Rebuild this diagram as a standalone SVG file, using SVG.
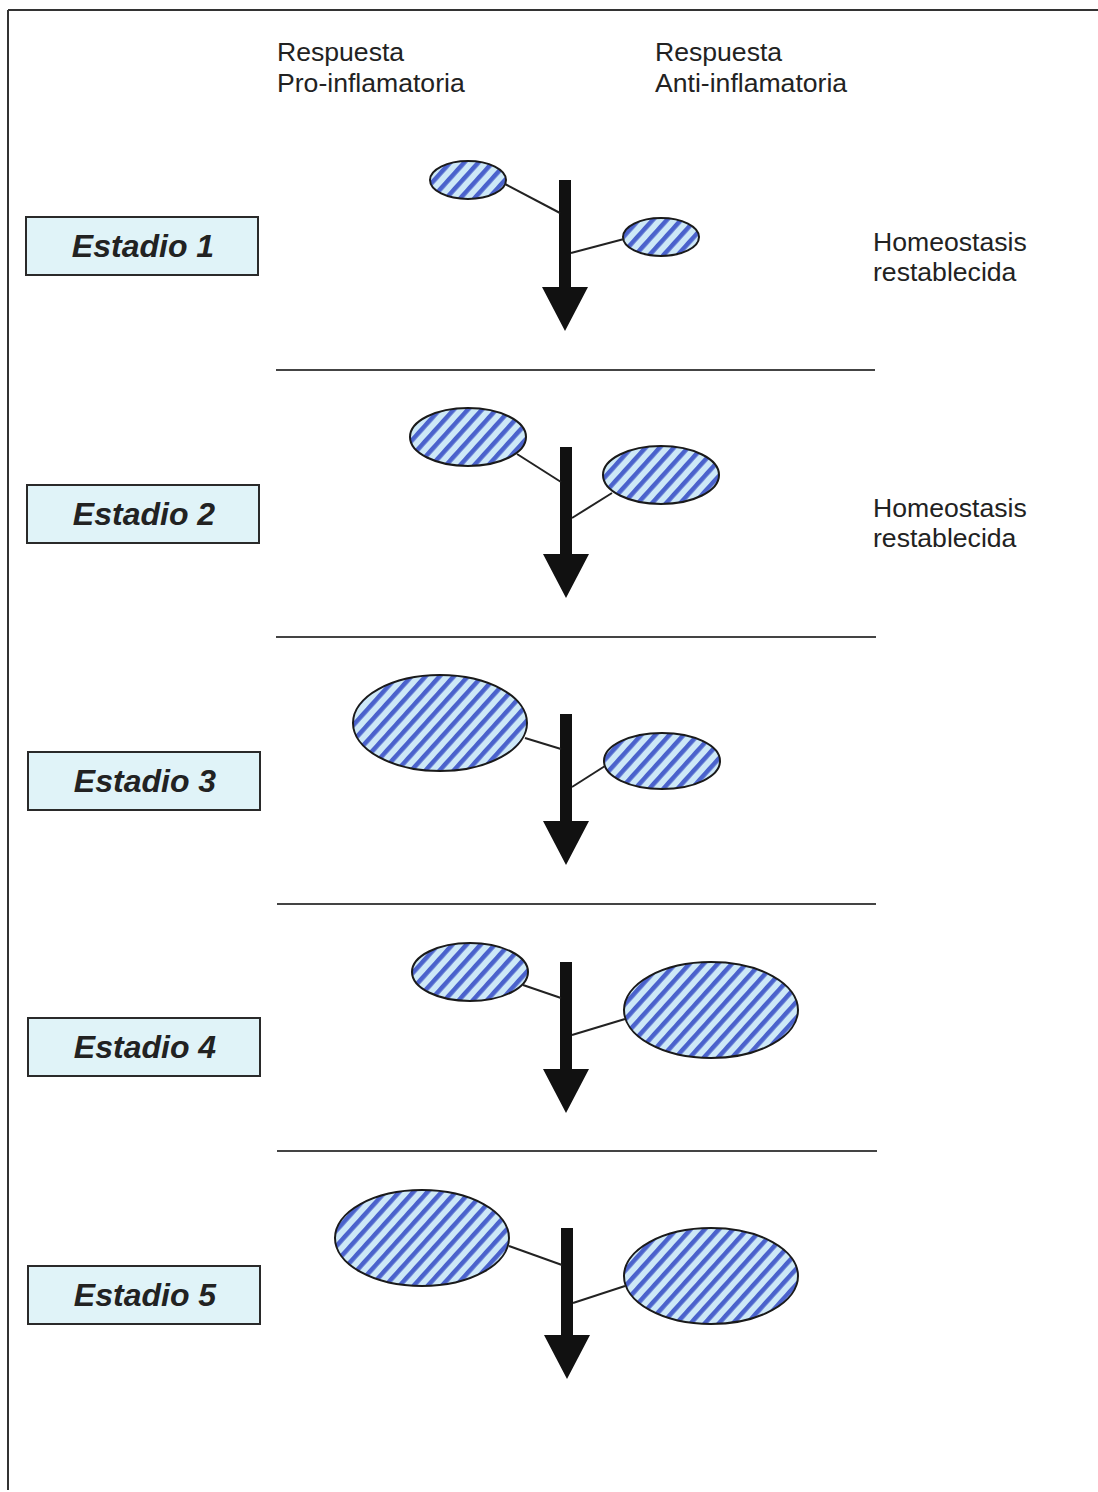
<svg xmlns="http://www.w3.org/2000/svg" width="1098" height="1492" viewBox="0 0 1098 1492">
<defs>
<pattern id="hatch" width="10.5" height="10.5" patternUnits="userSpaceOnUse" patternTransform="rotate(42)">
<rect width="10.5" height="10.5" fill="#cde8f7"/>
<rect width="4.5" height="10.5" fill="#4a62cc"/>
</pattern>
<path id="arrow" d="M-6,0 H6 V107 H23 L0,151 L-23,107 H-6 Z" fill="#111"/>
</defs>
<style>
.hdr{font-family:"Liberation Sans",Arial,sans-serif;font-size:26.6px;fill:#222}
.box{fill:#e0f3f8;stroke:#2a2a2a;stroke-width:2}
.lbl{font-family:"Liberation Sans",Arial,sans-serif;font-size:32px;font-weight:bold;font-style:italic;fill:#222;text-anchor:middle}
.ell{fill:url(#hatch);stroke:#1a1a1a;stroke-width:2}
.sep{stroke:#444;stroke-width:2}
.con{stroke:#222;stroke-width:2;fill:none}
</style>
<rect width="1098" height="1492" fill="#ffffff"/>
<g id="frame">
<line x1="8" y1="10" x2="1098" y2="10" stroke="#333" stroke-width="2"/>
<line x1="8" y1="10" x2="8" y2="1490" stroke="#333" stroke-width="2"/>
</g>
<g id="headers">
<text class="hdr" x="277" y="61">Respuesta</text>
<text class="hdr" x="277" y="92">Pro-inflamatoria</text>
<text class="hdr" x="655" y="61">Respuesta</text>
<text class="hdr" x="655" y="92">Anti-inflamatoria</text>
</g>
<g id="separators">
<line class="sep" x1="276" y1="370" x2="875" y2="370"/>
<line class="sep" x1="276" y1="637" x2="876" y2="637"/>
<line class="sep" x1="277" y1="904" x2="876" y2="904"/>
<line class="sep" x1="277" y1="1151" x2="877" y2="1151"/>
</g>
<g id="estadio1">
<rect class="box" x="26" y="217" width="232" height="58"/>
<text class="lbl" x="143" y="257">Estadio 1</text>
</g>
<g id="estadio2">
<rect class="box" x="27" y="485" width="232" height="58"/>
<text class="lbl" x="144" y="525">Estadio 2</text>
</g>
<g id="estadio3">
<rect class="box" x="28" y="752" width="232" height="58"/>
<text class="lbl" x="145" y="792">Estadio 3</text>
</g>
<g id="estadio4">
<rect class="box" x="28" y="1018" width="232" height="58"/>
<text class="lbl" x="145" y="1058">Estadio 4</text>
</g>
<g id="estadio5">
<rect class="box" x="28" y="1266" width="232" height="58"/>
<text class="lbl" x="145" y="1306">Estadio 5</text>
</g>
<g id="homeo1">
<text class="hdr" x="873" y="251">Homeostasis</text>
<text class="hdr" x="873" y="281">restablecida</text>
</g>
<g id="homeo2">
<text class="hdr" x="873" y="517">Homeostasis</text>
<text class="hdr" x="873" y="547">restablecida</text>
</g>
<g id="pro1"><ellipse class="ell" cx="468" cy="180" rx="38" ry="19"/></g>
<g id="anti1"><ellipse class="ell" cx="661" cy="237" rx="38" ry="19"/></g>
<g id="pro2"><ellipse class="ell" cx="468" cy="437" rx="58" ry="29"/></g>
<g id="anti2"><ellipse class="ell" cx="661" cy="475" rx="58" ry="29"/></g>
<g id="pro3"><ellipse class="ell" cx="440" cy="723" rx="87" ry="48"/></g>
<g id="anti3"><ellipse class="ell" cx="662" cy="761" rx="58" ry="28"/></g>
<g id="pro4"><ellipse class="ell" cx="470" cy="972" rx="58" ry="29"/></g>
<g id="anti4"><ellipse class="ell" cx="711" cy="1010" rx="87" ry="48"/></g>
<g id="pro5"><ellipse class="ell" cx="422" cy="1238" rx="87" ry="48"/></g>
<g id="anti5"><ellipse class="ell" cx="711" cy="1276" rx="87" ry="48"/></g>
<g id="connectors">
<use href="#arrow" x="565" y="180"/>
<use href="#arrow" x="566" y="447"/>
<use href="#arrow" x="566" y="714"/>
<use href="#arrow" x="566" y="962"/>
<use href="#arrow" x="567" y="1228"/>
<line class="con" x1="505" y1="184" x2="560" y2="213"/>
<line class="con" x1="571" y1="253" x2="624" y2="239"/>
<line class="con" x1="517" y1="454" x2="561" y2="482"/>
<line class="con" x1="572" y1="518" x2="612" y2="493"/>
<line class="con" x1="525" y1="738" x2="561" y2="749"/>
<line class="con" x1="572" y1="787" x2="605" y2="766"/>
<line class="con" x1="523" y1="985" x2="561" y2="998"/>
<line class="con" x1="572" y1="1035" x2="625" y2="1019"/>
<line class="con" x1="509" y1="1246" x2="562" y2="1265"/>
<line class="con" x1="573" y1="1303" x2="625" y2="1286"/>
</g>
</svg>
